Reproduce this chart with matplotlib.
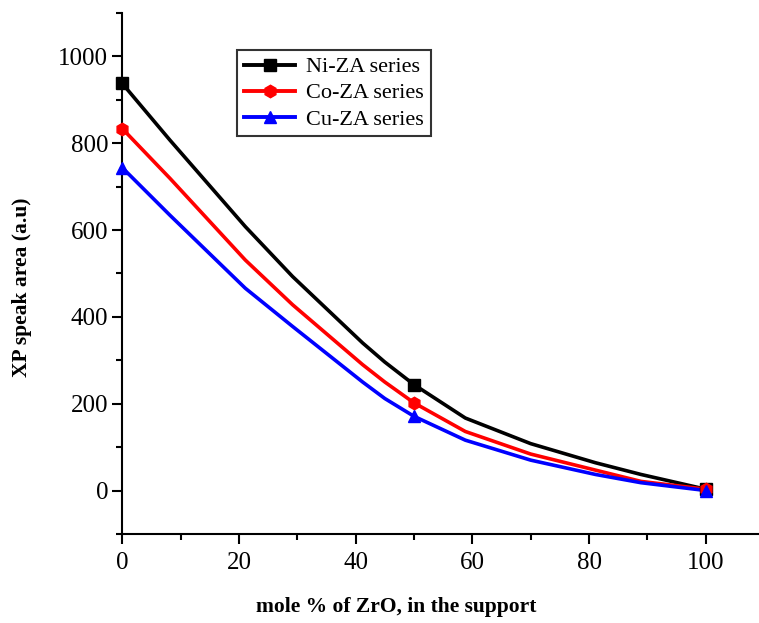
import numpy as np
import matplotlib
matplotlib.use("Agg")
import matplotlib.pyplot as plt
from matplotlib.ticker import MultipleLocator

# curve readings (mole % ZrO2 vs XP peak area)
curve_x = [0, 8.2, 21.1, 29.2, 41.2, 45, 50, 58.8, 70, 81.1, 88.9, 100]
ni_curve = [938, 807, 608, 493, 340, 296, 244, 167, 108, 64, 37, 3]
co_curve = [834, 719, 531, 428, 290, 250, 202, 136, 84, 47, 21, 3]
cu_curve = [744, 634, 466, 378, 250, 212, 171, 116, 70, 37, 18, 0]

# measured points (markers)
mark_x = [0, 50, 100]
ni_mark = [938, 244, 3]
co_mark = [834, 202, 3]
cu_mark = [744, 171, 0]

labels = ["Ni-ZA series", "Co-ZA series", "Cu-ZA series"]
colors = ["black", "red", "blue"]
markers = ["s", "h", "^"]

plt.rcParams['font.family'] = ['Liberation Serif', 'DejaVu Serif']

fig = plt.figure(figsize=(7.59, 6.23), dpi=100)
ax = fig.add_axes([0.161, 0.143, 0.838, 0.836])

curves = [ni_curve, co_curve, cu_curve]
marks = [ni_mark, co_mark, cu_mark]
handles = []
for cy, my, lab, c, m in zip(curves, marks, labels, colors, markers):
    ax.plot(curve_x, cy, color=c, lw=2.6, clip_on=False, zorder=3,
            solid_joinstyle='round')
    ax.plot(mark_x, my, color=c, lw=0, marker=m, ms=9, clip_on=False, zorder=4)
    h, = ax.plot([], [], color=c, lw=2.8, marker=m, ms=9, label=lab)
    handles.append(h)

ax.set_xlim(0, 109)
ax.set_ylim(-100, 1100)
ax.xaxis.set_major_locator(MultipleLocator(20))
ax.xaxis.set_minor_locator(MultipleLocator(10))
ax.yaxis.set_minor_locator(MultipleLocator(100))
ax.set_yticks([0, 200, 400, 600, 800, 1000])
ax.tick_params(which='major', direction='out', length=7, width=1.5, labelsize=18)
ax.tick_params(axis='y', which='major', pad=3)
ax.tick_params(axis='x', which='major', pad=6)
ax.tick_params(which='minor', direction='out', length=4, width=1.5)
for s in ['top', 'right']:
    ax.spines[s].set_visible(False)
for s in ['left', 'bottom']:
    ax.spines[s].set_linewidth(1.5)

leg = ax.legend(handles=handles, loc='upper left', bbox_to_anchor=(0.181, 0.929),
                fontsize=16, frameon=True, fancybox=False, handlelength=2.3,
                borderaxespad=0, borderpad=0.3, labelspacing=0.25, handletextpad=0.5)
leg.get_frame().set_edgecolor('black')
leg.get_frame().set_linewidth(1.5)

fig.text(0.029, 0.539, "XP speak area (a.u)", rotation=90, ha='center', va='center',
         fontsize=15.5, fontweight='bold')
fig.text(0.522, 0.026, "mole % of ZrO, in the support", ha='center', va='center',
         fontsize=15.5, fontweight='bold')

fig.savefig("out.png", dpi=100)
